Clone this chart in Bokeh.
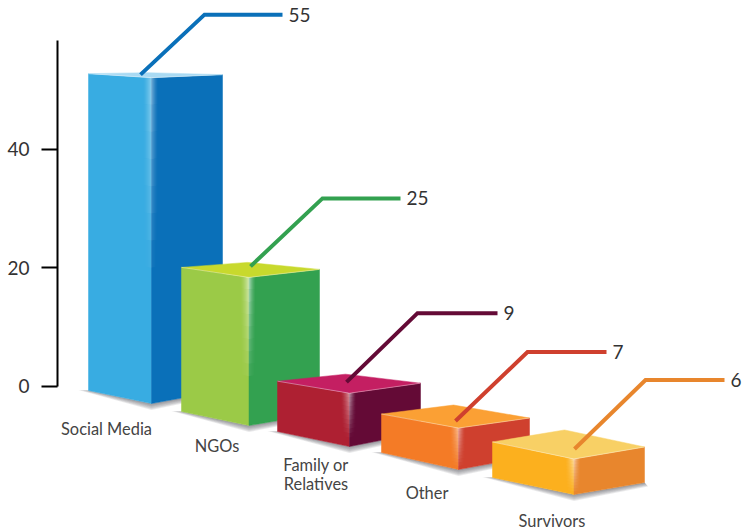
from bokeh.plotting import figure
from bokeh.models import FixedTicker, ColumnDataSource
from bokeh.core.properties import value
from bokeh.embed import file_html
from bokeh.resources import INLINE

# ---- data ----
categories = ["Social Media", "NGOs", "Family or\nRelatives", "Other", "Survivors"]
values = [55, 25, 9, 7, 6]
y_ticks = [0, 20, 40]

# ---- colours ----
left_colors = ["#38ace2", "#9bca47", "#ae2032", "#f47b26", "#fcb01e"]
right_colors = ["#0a70b9", "#33a150", "#640a36", "#cf402e", "#e8862d"]
top_colors = ["#a9daf3", "#c8d92d", "#c41f62", "#fba034", "#f8d065"]
line_colors = ["#0a70b9", "#33a150", "#640a36", "#cf402e", "#e8862d"]

# ---- layout, in page pixels ----
W, H = 743, 531
AXIS_X = 57
ZERO_PX = 385.5
PX_PER_UNIT = 5.925
FONT = "Lato"
x_left = [88, 181, 277, 381, 492]
x_corner = [151, 248.5, 349, 458, 573.5]
x_right = [222, 319, 420, 529, 644]
corner_base = [403, 425, 446, 469, 494]
left_rise = [13, 14, 15, 17, 17]
right_rise = [13, 12, 14, 13, 12]
top_left_drop = [4, 10, 12, 14, 17]
top_right_drop = [3, 8, 10, 10, 12]
apex_x = [147, 247, 345, 453, 564]
apex_rise = [5, 15, 19, 23, 29]
lead_start = [(-11, 3), (1.5, 11), (-3, 11), (-3, 7), (0.5, 10)]
lead_diag = [(64, 60), (72, 68), (71, 69), (72, 69), (71, 69)]
lead_len = [78, 78, 80, 79, 79]
cat_xy = [(106, 427.5), (216.5, 444.5), (315.5, 473), (426.5, 491.5), (551.5, 519.5)]
glow_peak = [0.50, 0.62, 0.62, 0.60, 0.60]
glow_fade = [0.62, 0.72, 0.85, 1.0, 1.0]


def Y(px):
    return (ZERO_PX - px) / PX_PER_UNIT


p = figure(width=W, height=H, output_backend="svg", toolbar_location=None,
           x_range=(AXIS_X, W), y_range=(Y(H), Y(0)),
           min_border_left=AXIS_X, min_border_right=0, min_border_top=0, min_border_bottom=0,
           outline_line_color=None, background_fill_color="white",
           margin=(0, 0, 0, 0))
p.xaxis.visible = False
p.xgrid.visible = False
p.ygrid.visible = False

ax = p.yaxis[0]
ax.ticker = FixedTicker(ticks=y_ticks)
ax.bounds = (0, Y(40))
ax.axis_line_color = "black"
ax.axis_line_width = 2
ax.major_tick_line_color = "black"
ax.major_tick_line_width = 2
ax.major_tick_out = 16
ax.major_tick_in = 0
ax.minor_tick_line_color = None
ax.major_label_standoff = 12
ax.major_label_text_font = FONT
ax.major_label_text_font_size = "19px"
ax.major_label_text_color = "#333333"


def mix(a, b, t):
    return a + (b - a) * t


for i in range(len(values)):
    xl, xc, xr = x_left[i], x_corner[i], x_right[i]
    base = Y(corner_base[i])
    top = base + values[i]                     # the front edge is the value, on the axis scale
    bl = base + left_rise[i] / PX_PER_UNIT
    br = base + right_rise[i] / PX_PER_UNIT
    tl = top + top_left_drop[i] / PX_PER_UNIT
    tr = top + top_right_drop[i] / PX_PER_UNIT
    ta = top + apex_rise[i] / PX_PER_UNIT

    # soft ground shadow
    for k in range(1, 7):
        d = k * 1.1 / PX_PER_UNIT
        p.patch([xl - k * 1.7, xc, xr + k * 0.6, xr, xc, xl],
                [bl + 0.1, base - d, br - d * 0.6, br, base, bl],
                fill_color="#30303a", fill_alpha=0.10, line_color=None)

    # three faces
    p.patch([xl, xc, xc, xl], [tl, top, base, bl], fill_color=left_colors[i], line_color=left_colors[i], line_width=0.5)
    p.patch([xc, xr, xr, xc], [top, tr, br, base], fill_color=right_colors[i], line_color=right_colors[i], line_width=0.5)
    p.patch([xl, apex_x[i], xr, xc], [tl, ta, tr, top], fill_color=top_colors[i], line_color=top_colors[i], line_width=0.5)

    # light along the front top edges
    p.line([xl, xc, xr], [tl, top, tr], line_color="white", line_alpha=0.35, line_width=1)

    # soft highlight down the front edge, as small translucent cells
    xs, ys, alphas = [], [], []
    n_rows = 12
    for side, (x0, x1, t0, t1, b0, b1, span) in enumerate(
            [(xc - 9, xc, tl, top, bl, base, xc - xl), (xc, xc + 7, top, tr, base, br, xr - xc)]):
        n = int(x1 - x0)
        for c in range(n):
            xa, xb = x0 + c, x0 + c + 1
            mid = (xa + xb) / 2
            strength = ((mid - x0) / (x1 - x0)) ** 1.6 if side == 0 else ((x1 - mid) / (x1 - x0)) ** 1.6
            ua = (xa - xc + span) / span if side == 0 else (xa - xc) / span
            ub = (xb - xc + span) / span if side == 0 else (xb - xc) / span
            topa, topb = mix(t0, t1, ua), mix(t0, t1, ub)
            bota, botb = mix(b0, b1, ua), mix(b0, b1, ub)
            for r in range(n_rows):
                v0, v1 = r / n_rows, (r + 1) / n_rows
                g = max(0.0, 1 - ((v0 + v1) / 2) / glow_fade[i])
                a = glow_peak[i] * strength * g
                if a < 0.01:
                    continue
                xs.append([xa, xb, xb, xa])
                ys.append([mix(topa, bota, v0), mix(topb, botb, v0), mix(topb, botb, v1), mix(topa, bota, v1)])
                alphas.append(a)
    p.patches("xs", "ys", source=ColumnDataSource(dict(xs=xs, ys=ys, a=alphas)),
              fill_color="white", fill_alpha="a", line_color=None)

    # leader and its value
    sx = xc + lead_start[i][0]
    sy = top + lead_start[i][1] / PX_PER_UNIT
    ex = sx + lead_diag[i][0]
    ey = sy + lead_diag[i][1] / PX_PER_UNIT
    p.line([sx, ex, ex + lead_len[i]], [sy, ey, ey], line_color=line_colors[i], line_width=4,
           line_join="miter", line_cap="butt")
    p.text([ex + lead_len[i] + 6], [ey], text=[str(values[i])], text_font=value(FONT),
           text_font_size="19px", text_color="#333333", text_baseline="middle", text_align="left")

    # category label
    p.text([cat_xy[i][0]], [Y(cat_xy[i][1])], text=[categories[i]], text_font=value(FONT),
           text_font_size="16.4px", text_color="#444444", text_baseline="middle", text_align="center",
           text_line_height=1.0)

open("out.html", "w").write(file_html(p, INLINE))
